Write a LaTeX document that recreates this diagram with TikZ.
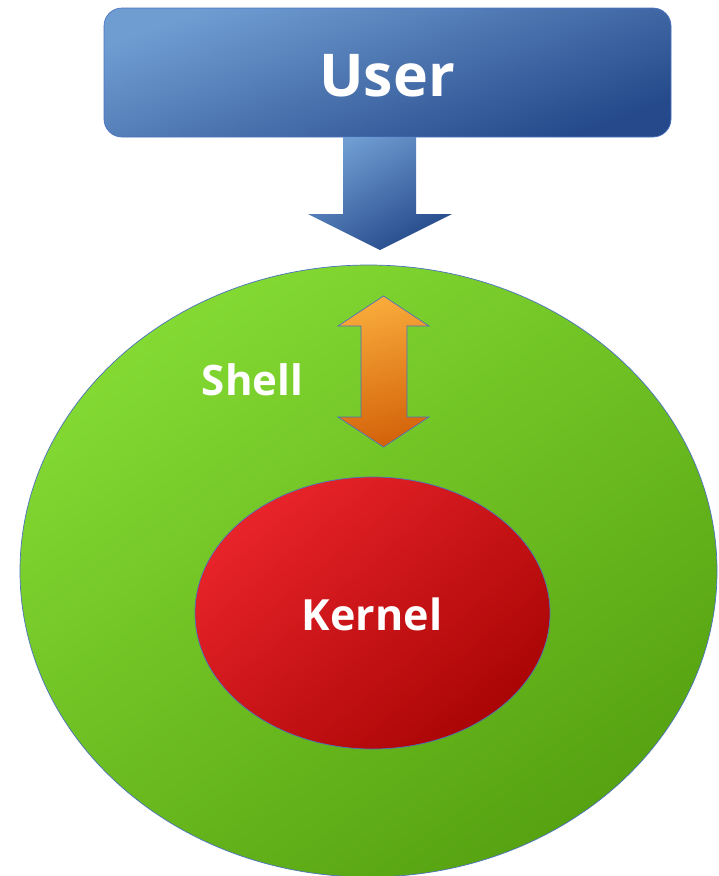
\documentclass[tikz,border=0pt]{standalone}
\usepackage{fontspec}
\setmainfont{Open Sans}
\usetikzlibrary{shapes.geometric}
\definecolor{userlight}{HTML}{6F9DD2}
\definecolor{userdark}{HTML}{25498A}
\definecolor{shelllight}{HTML}{84DA33}
\definecolor{shelldark}{HTML}{56A211}
\definecolor{kernellight}{HTML}{E8242A}
\definecolor{kerneldark}{HTML}{AA0505}
\definecolor{orangelight}{HTML}{F8AA3A}
\definecolor{orangedark}{HTML}{D4630A}
\definecolor{edgeblue}{HTML}{4A72C0}
\tikzset{
  edge/.style={draw=edgeblue, line width=0.7pt},
  label/.style={text=white, font=\bfseries},
}
\begin{document}
\begin{tikzpicture}[x=1pt, y=-1pt]
  \useasboundingbox (0,0) rectangle (719,876);

  % outer layer: shell
  \node[ellipse, edge, minimum width=697pt, minimum height=612pt, inner sep=0pt,
        top color=shelllight, bottom color=shelldark, shading angle=35]
       (shell) at (368.5,571) {};

  % inner layer: kernel
  \node[ellipse, edge, minimum width=355pt, minimum height=272pt, inner sep=0pt,
        top color=kernellight, bottom color=kerneldark, shading angle=40]
       (kernel) at (372.5,613) {};

  % user box
  \node[rectangle, rounded corners=18pt, edge, minimum width=567pt, minimum height=129pt,
        inner sep=0pt, top color=userlight, bottom color=userdark, shading angle=20]
       (user) at (387.5,72.5) {};

  % labels
  \node[label, font=\fontsize{59}{59}\selectfont\bfseries] (usertext) at (387,76) {User};
  \node[label, font=\fontsize{42}{42}\selectfont\bfseries] (shelltext) at (252.5,380) {Shell};
  \node[label, font=\fontsize{43}{43}\selectfont\bfseries] (kerneltext) at (372,614) {Kernel};

  % arrow from user down to shell
  \coordinate (dtip) at (380,250);
  \shade[top color=userlight, bottom color=userdark, shading angle=30]
    (343,137) -- (416,137) -- (416,214) -- (452,214) -- (dtip) -- (308,214) -- (343,214) -- cycle;

  % two-way arrow between shell and kernel
  \coordinate (utip) at (383.5,296);
  \coordinate (btip) at (383.5,447);
  \path[edge, top color=orangelight, bottom color=orangedark, shading angle=15]
    (utip) -- (429,326) -- (407,326) -- (407,417) -- (429,417) -- (btip)
    -- (338,417) -- (361,417) -- (361,326) -- (338,326) -- cycle;
\end{tikzpicture}
\end{document}
